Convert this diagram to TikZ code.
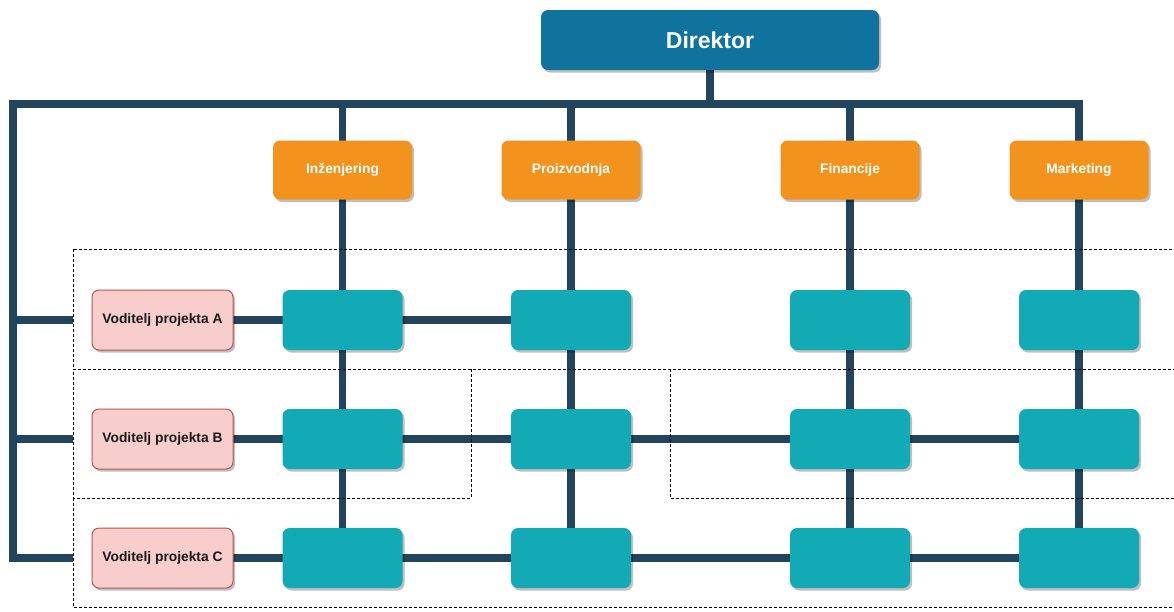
\documentclass[tikz,border=0pt]{standalone}
\usepackage{fontspec}
\setmainfont{Liberation Sans}
\usetikzlibrary{shadows,backgrounds}
\definecolor{dirblue}{HTML}{10739E}
\definecolor{deptorange}{HTML}{F2931E}
\definecolor{cellteal}{HTML}{12AAB5}
\definecolor{linkdark}{HTML}{23445D}
\definecolor{pmfill}{HTML}{F8CECC}
\definecolor{pmline}{HTML}{B85450}
\tikzset{
  x=1pt, y=1pt,
  boxshadow/.style={drop shadow={shadow xshift=2pt, shadow yshift=-2.5pt, fill=black, opacity=0.25}},
  dirbox/.style={rectangle, rounded corners=7pt, fill=dirblue, draw=none, minimum width=338pt, minimum height=60pt, inner sep=0pt, text=white, font=\fontsize{23}{26}\selectfont\bfseries, boxshadow},
  deptbox/.style={rectangle, rounded corners=7pt, fill=deptorange, draw=none, minimum width=139pt, minimum height=59pt, inner sep=0pt, text=white, font=\fontsize{13.8}{16}\selectfont\bfseries, boxshadow},
  cellbox/.style={rectangle, rounded corners=7pt, fill=cellteal, draw=none, minimum width=120pt, minimum height=60pt, inner sep=0pt, boxshadow},
  pmbox/.style={rectangle, rounded corners=7pt, fill=pmfill, draw=pmline, line width=1pt, minimum width=141pt, minimum height=60pt, inner sep=0pt, text=black!90, font=\fontsize{13.8}{16}\selectfont\bfseries, boxshadow},
  link/.style={draw=linkdark, line width=7.5pt},
  zone/.style={draw=black, line width=0.9pt, dash pattern=on 3pt off 2pt}
}
\begin{document}
\begin{tikzpicture}
\useasboundingbox (0,0) rectangle (1174,-611);
% director and departments
\node[dirbox] (dir) at (710,-40) {Direktor};
\node[deptbox] (ing) at (342.5,-170) {Inženjering};
\node[deptbox] (pro) at (571,-170) {Proizvodnja};
\node[deptbox] (fin) at (850,-170) {Financije};
\node[deptbox] (mkt) at (1079,-170) {Marketing};
% project managers
\node[pmbox] (pA) at (162.5,-320) {Voditelj projekta A};
\node[pmbox] (pB) at (162.5,-439) {Voditelj projekta B};
\node[pmbox] (pC) at (162.5,-558) {Voditelj projekta C};
% matrix cells
\foreach \c/\x in {1/342.5,2/571,3/850,4/1079}{
  \node[cellbox] (tA\c) at (\x,-320) {};
  \node[cellbox] (tB\c) at (\x,-439) {};
  \node[cellbox] (tC\c) at (\x,-558) {};
}
% helper coordinates
\coordinate (bus) at (13,-104);
\coordinate (corner) at (13,-558);
\coordinate (eA) at (73,-320);
\coordinate (eB) at (73,-439);
\coordinate (eC) at (73,-558);
\begin{scope}[on background layer]
  \draw[link] (dir.center) -- (dir.center |- bus);
  \draw[link] (eC) -- (corner) -- (bus) -- (mkt.center |- bus) -- (mkt.center);
  \draw[link] (ing.center |- bus) -- (ing.center);
  \draw[link] (pro.center |- bus) -- (pro.center);
  \draw[link] (fin.center |- bus) -- (fin.center);
  \draw[link] (bus |- eA) -- (eA);
  \draw[link] (bus |- eB) -- (eB);
  \draw[link] (ing.center) -- (tA1.center) -- (tB1.center) -- (tC1.center);
  \draw[link] (pro.center) -- (tA2.center) -- (tB2.center) -- (tC2.center);
  \draw[link] (fin.center) -- (tA3.center) -- (tB3.center) -- (tC3.center);
  \draw[link] (mkt.center) -- (tA4.center) -- (tB4.center) -- (tC4.center);
  \draw[link] (pA.center) -- (tA1.center) -- (tA2.center);
  \draw[link] (pB.center) -- (tB1.center) -- (tB2.center) -- (tB3.center) -- (tB4.center);
  \draw[link] (pC.center) -- (tC1.center) -- (tC2.center) -- (tC3.center) -- (tC4.center);
\end{scope}
% dashed zones
\draw[zone] (73,-249) rectangle (1180,-369);
\draw[zone] (471,-369) -- (471,-498) -- (73,-498) -- (73,-369);
\draw[zone] (670,-369) -- (670,-498) -- (1180,-498);
\draw[zone] (73,-498) -- (73,-607.5) -- (1180,-607.5);
\end{tikzpicture}
\end{document}
